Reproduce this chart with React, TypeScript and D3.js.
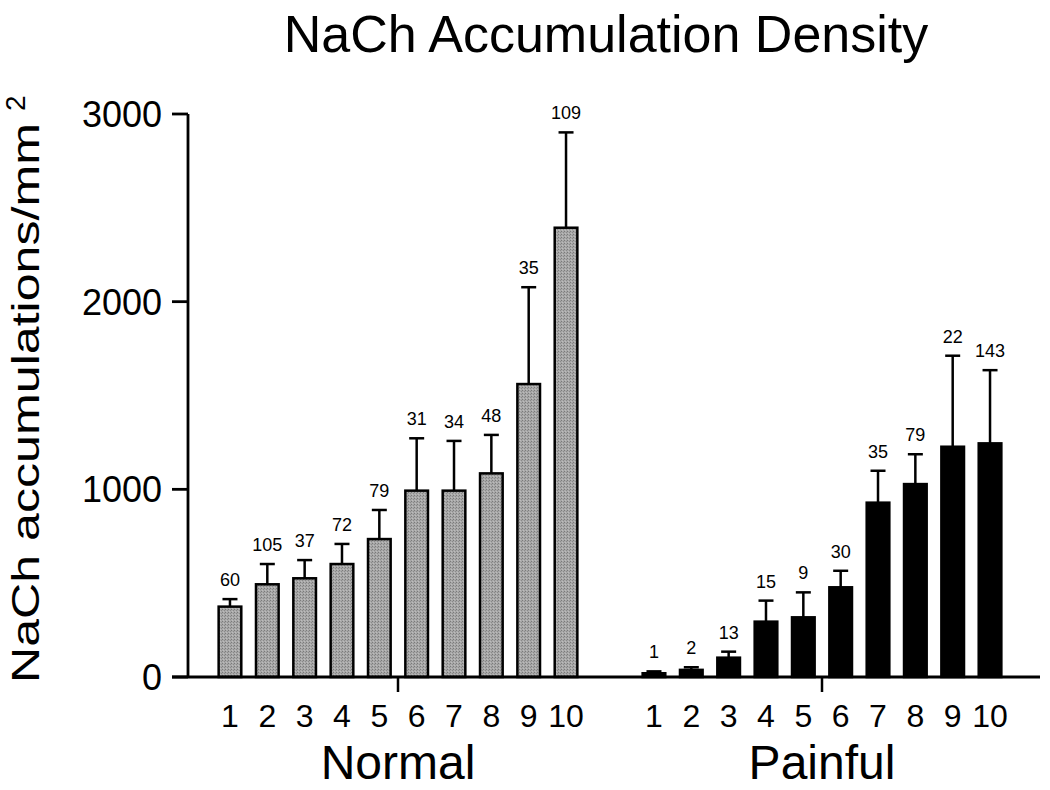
import React from "react";
import * as d3 from "d3";

const title = "NaCh Accumulation Density";
const yLabel = "NaCh accumulations/mm";
const groups = ["Normal", "Painful"];
const categories = ["1", "2", "3", "4", "5", "6", "7", "8", "9", "10"];
const normalMean = [375, 494, 526, 602, 735, 993, 993, 1085, 1561, 2394];
const normalSem = [40, 108, 97, 107, 155, 279, 265, 205, 516, 508];
const normalN = [60, 105, 37, 72, 79, 31, 34, 48, 35, 109];
const painfulMean = [20, 38, 103, 295, 318, 478, 929, 1028, 1227, 1245];
const painfulSem = [10, 14, 32, 112, 133, 88, 170, 159, 485, 390];
const painfulN = [1, 2, 13, 15, 9, 30, 35, 79, 22, 143];
const yTicks = [0, 1000, 2000, 3000];

const FONT = "'Liberation Sans', Arial, Helvetica, sans-serif";

export default function App() {
  const W = 1050;
  const H = 790;
  const axisX = 188;
  const axisRight = 1040;
  const y = d3.scaleLinear().domain([0, 3000]).range([677, 114]);
  const xGroup = d3.scalePoint<string>().domain(groups).range([398, 822]);
  const xInner = d3
    .scaleBand<string>()
    .domain(categories)
    .range([-186.7, 186.7])
    .paddingInner(0.34)
    .paddingOuter(0.17);
  const bw = xInner.bandwidth();

  const series = [
    { g: "Normal", mean: normalMean, sem: normalSem, n: normalN, fill: "url(#grayTex)" },
    { g: "Painful", mean: painfulMean, sem: painfulSem, n: painfulN, fill: "#000" },
  ];

  return (
    <svg
      width={W}
      height={H}
      style={{ position: "absolute", left: 0, top: 0, background: "#fff" }}
      fontFamily={FONT}
    >
      <defs>
        <pattern id="grayTex" width="3" height="3" patternUnits="userSpaceOnUse">
          <rect width="3" height="3" fill="#a8a8a8" />
          <rect x="0" y="0" width="1" height="1" fill="#7a7a7a" />
          <rect x="2" y="1" width="1" height="1" fill="#8a8a8a" />
          <rect x="1" y="2" width="1" height="1" fill="#bcbcbc" />
        </pattern>
      </defs>

      <text x={606} y={52} fontSize={52} textAnchor="middle" fill="#000">
        {title}
      </text>

      {/* Y axis label */}
      <g transform="translate(39,683) rotate(-90)">
        <text x={0} y={0} fontSize={39} textLength={560} lengthAdjust="spacingAndGlyphs" fill="#000">
          {yLabel}
        </text>
        <text x={572} y={-14} fontSize={28} fill="#000">
          2
        </text>
      </g>

      {/* bars */}
      {series.map((s) => {
        const gc = xGroup(s.g)!;
        return (
          <g key={s.g}>
            {categories.map((c, i) => {
              const cx = gc + xInner(c)! + bw / 2;
              const top = y(s.mean[i]);
              const cap = y(s.mean[i] + s.sem[i]);
              return (
                <g key={c}>
                  <line x1={cx} x2={cx} y1={top} y2={cap} stroke="#000" strokeWidth={2.5} />
                  <line x1={cx - 7.5} x2={cx + 7.5} y1={cap} y2={cap} stroke="#000" strokeWidth={2.5} />
                  <rect
                    x={cx - (bw - 2) / 2}
                    y={top}
                    width={bw - 2}
                    height={y(0) - top}
                    fill={s.fill}
                    stroke="#000"
                    strokeWidth={2.5}
                  />
                  <text x={cx} y={cap - 13} fontSize={18} textAnchor="middle" fill="#000">
                    {s.n[i]}
                  </text>
                  <text x={cx} y={727} fontSize={32} textAnchor="middle" fill="#000">
                    {c}
                  </text>
                </g>
              );
            })}
            <line x1={gc} x2={gc} y1={y(0)} y2={y(0) + 15} stroke="#000" strokeWidth={2.5} />
            <text x={gc} y={779} fontSize={48} textAnchor="middle" fill="#000">
              {s.g}
            </text>
          </g>
        );
      })}

      {/* axes */}
      <line x1={axisX} x2={axisX} y1={y(3000)} y2={y(0)} stroke="#000" strokeWidth={2.8} />
      <line x1={172} x2={axisRight} y1={y(0)} y2={y(0)} stroke="#000" strokeWidth={2.8} />
      {yTicks.map((t) => (
        <g key={t}>
          <line x1={172} x2={axisX} y1={y(t)} y2={y(t)} stroke="#000" strokeWidth={2.8} />
          <text x={162} y={y(t)} dy="0.36em" fontSize={36} textAnchor="end" fill="#000">
            {t}
          </text>
        </g>
      ))}
    </svg>
  );
}
